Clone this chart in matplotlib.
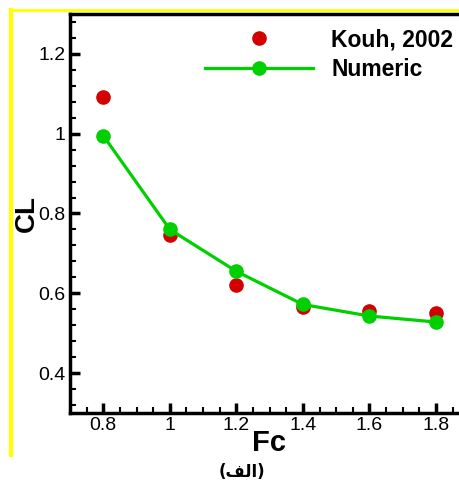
import numpy as np
import matplotlib.pyplot as plt
from matplotlib.lines import Line2D

plt.rcParams['font.family'] = ['Liberation Sans', 'DejaVu Sans']

fc = [0.8, 1.0, 1.2, 1.4, 1.6, 1.8]
cl_kouh = [1.093, 0.745, 0.622, 0.566, 0.556, 0.551]
cl_num = [0.995, 0.760, 0.655, 0.572, 0.543, 0.528]

fig = plt.figure(figsize=(4.59, 4.86), dpi=100)
W, H = 459, 486
ax = fig.add_axes([70 / W, 1 - 413 / H, 1 - 70 / W, (413 - 14) / H])

ax.plot(fc, cl_kouh, 'o', color='#d40000', markersize=9.5, label='Kouh, 2002', zorder=3)
ax.plot(fc, cl_num, '-o', color='#00d000', lw=2.3, markersize=9.5, label='Numeric', zorder=4)

ax.set_xlim(0.7, 0.8 + (459 - 103) / 333 * 1.0)
ax.set_ylim(0.3, 1.3)
ax.set_xticks([0.8, 1, 1.2, 1.4, 1.6, 1.8])
ax.set_xticklabels(['0.8', '1', '1.2', '1.4', '1.6', '1.8'])
ax.set_yticks([0.4, 0.6, 0.8, 1.0, 1.2])
ax.set_yticklabels(['0.4', '0.6', '0.8', '1', '1.2'])
ax.set_xticks(np.arange(0.7, 1.9, 0.05), minor=True)
ax.set_yticks(np.arange(0.32, 1.3, 0.04), minor=True)
ax.tick_params(which='both', direction='in', labelsize=14, width=1.5)
ax.tick_params(which='major', length=7, width=2.5)
ax.tick_params(which='minor', length=4)
ax.tick_params(axis='x', pad=3)
ax.tick_params(axis='y', pad=3)
for s in ['left', 'bottom', 'top']:
    ax.spines[s].set_linewidth(2.5)
ax.spines['right'].set_visible(False)

ax.set_xlabel('Fc', fontsize=21, fontweight='bold')
ax.xaxis.set_label_coords(0.512, -0.075)
ax.xaxis.label.set_verticalalignment('center')
ax.set_ylabel('CL', fontsize=20, fontweight='bold')
ax.yaxis.set_label_coords(-0.11, 0.501)
ax.yaxis.label.set_verticalalignment('center')

ax.legend(loc='upper left', bbox_to_anchor=(205 / W, 1 - 28 / H),
          bbox_transform=fig.transFigure, frameon=False, borderpad=0, borderaxespad=0,
          prop={'size': 16.5, 'weight': 'bold'}, handlelength=4.7,
          handletextpad=0.8, labelspacing=0.3)

# yellow frame lines
fig.add_artist(Line2D([11 / W, 1], [1 - 10 / H, 1 - 10 / H], color='#ffff00', lw=2))
fig.add_artist(Line2D([11 / W, 11 / W], [1 - 10 / H, 1 - 455 / H], color='#ffff00', lw=3))

# caption "(الف)" in visual order with presentation forms
fig.text(242 / W, 1 - 472 / H, '(\ufed2\ufedf\ufe8d)', ha='center', va='center',
         fontsize=12, fontweight='bold', family=['DejaVu Sans'])

fig.savefig('out.png', dpi=100)
